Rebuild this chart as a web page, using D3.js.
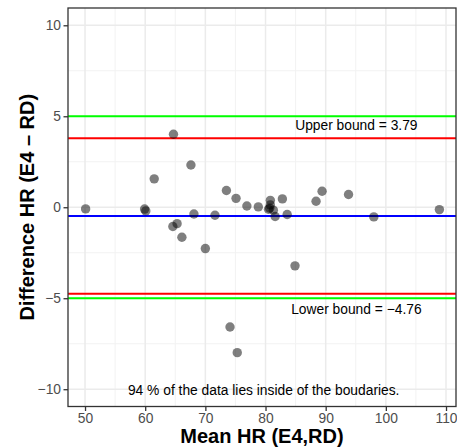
<!DOCTYPE html>
<html><head><meta charset="utf-8">
<script src="https://cdn.jsdelivr.net/npm/d3@7"></script>
<style>body{margin:0;background:#fff}svg{display:block;font-family:"Liberation Sans",Arial,sans-serif}</style>
</head><body><svg id="c" width="457" height="448"></svg>
<script>
const meanHR = [64.7,61.5,67.6,73.5,89.4,93.8,50.1,59.9,60.1,75.1,76.9,78.8,80.8,82.8,81.6,83.6,88.4,98.0,108.9,68.1,71.6,64.6,65.3,66.1,70.0,84.9,74.1,75.3,80.8,80.7,81.3,80.5];
const diffHR = [4.01,1.56,2.32,0.92,0.88,0.70,-0.09,-0.10,-0.20,0.49,0.07,0.02,0.38,0.46,-0.51,-0.40,0.33,-0.53,-0.13,-0.37,-0.44,-1.06,-0.90,-1.65,-2.27,-3.22,-6.58,-7.99,0.13,-0.05,-0.16,-0.11];
const xTicks = [50,60,70,80,90,100,110];
const yTicks = [-10,-5,0,5,10];
const xMinor = [55,65,75,85,95,105];
const yMinor = [-7.5,-2.5,2.5,7.5];
const limitLines = [5,-5];
const upperBound = 3.79, lowerBound = -4.76;
const meanDiff = (upperBound + lowerBound) / 2;
const labels = ["Upper bound = 3.79", "Lower bound = \u22124.76", "94 % of the data lies inside of the boudaries."];
const labelX = [95.1, 95.1, 79.7];
const labelY = [4.53, -5.62, -10.06];

const svg = d3.select("#c");
const L = 68, R = 456, T = 8, B = 406.5;
const x = d3.scaleLinear().domain([47.17, 111.66]).range([L, R]);
const y = d3.scaleLinear().domain([-10.95, 10.95]).range([B, T]);

const g = svg.append("g");
g.selectAll(".xm").data(xMinor).join("line").attr("x1", d=>x(d)).attr("x2", d=>x(d)).attr("y1", T).attr("y2", B).attr("stroke", "#f2f2f2").attr("stroke-width", 1);
g.selectAll(".ym").data(yMinor).join("line").attr("y1", d=>y(d)).attr("y2", d=>y(d)).attr("x1", L).attr("x2", R).attr("stroke", "#f2f2f2").attr("stroke-width", 1);
g.selectAll(".xg").data(xTicks).join("line").attr("x1", d=>x(d)).attr("x2", d=>x(d)).attr("y1", T).attr("y2", B).attr("stroke", "#ebebeb").attr("stroke-width", 1.5);
g.selectAll(".yg").data(yTicks).join("line").attr("y1", d=>y(d)).attr("y2", d=>y(d)).attr("x1", L).attr("x2", R).attr("stroke", "#ebebeb").attr("stroke-width", 1.5);

const hl = (v, c) => g.append("line").attr("x1", L).attr("x2", R).attr("y1", y(v)).attr("y2", y(v)).attr("stroke", c).attr("stroke-width", 2);
limitLines.forEach(v => hl(v, "#00ff00"));
hl(upperBound, "#ff0000");
hl(lowerBound, "#ff0000");
hl(meanDiff, "#0000ff");

g.selectAll("circle").data(meanHR.map((m,i)=>[m, diffHR[i]])).join("circle")
  .attr("cx", d=>x(d[0])).attr("cy", d=>y(d[1])).attr("r", 4.7)
  .attr("fill", "#000").attr("fill-opacity", 0.5);

g.selectAll(".lab").data(labels).join("text")
  .attr("x", (d,i)=>x(labelX[i])).attr("y", (d,i)=>y(labelY[i])).attr("dy", "0.35em")
  .attr("text-anchor", "middle").attr("font-size", 13.8).attr("fill", "#000").text(d=>d);

g.append("rect").attr("x", L).attr("y", T).attr("width", R-L).attr("height", B-T)
  .attr("fill", "none").attr("stroke", "#333333").attr("stroke-width", 1.3);

const xa = svg.append("g").attr("transform", `translate(0,${B})`)
  .call(d3.axisBottom(x).tickValues(xTicks).tickSize(4.5).tickPadding(2.5));
const ya = svg.append("g").attr("transform", `translate(${L},0)`)
  .call(d3.axisLeft(y).tickValues(yTicks).tickSize(4.5).tickPadding(2.5).tickFormat(d => d < 0 ? "\u2212" + Math.abs(d) : d));
[xa, ya].forEach(a => {
  a.select(".domain").remove();
  a.selectAll(".tick line").attr("stroke", "#333333").attr("stroke-width", 1.3);
  a.selectAll(".tick text").attr("fill", "#4d4d4d").attr("font-size", 13.8).attr("font-family", "Liberation Sans, Arial, sans-serif");
});

svg.append("text").attr("x", (L+R)/2).attr("y", 443).attr("text-anchor", "middle")
  .attr("font-size", 20).attr("font-weight", "bold").text("Mean HR (E4,RD)");
svg.append("text").attr("transform", `translate(34,${(T+B)/2}) rotate(-90)`).attr("text-anchor", "middle")
  .attr("font-size", 20).attr("font-weight", "bold").text("Difference HR (E4 \u2013 RD)");
</script></body></html>
